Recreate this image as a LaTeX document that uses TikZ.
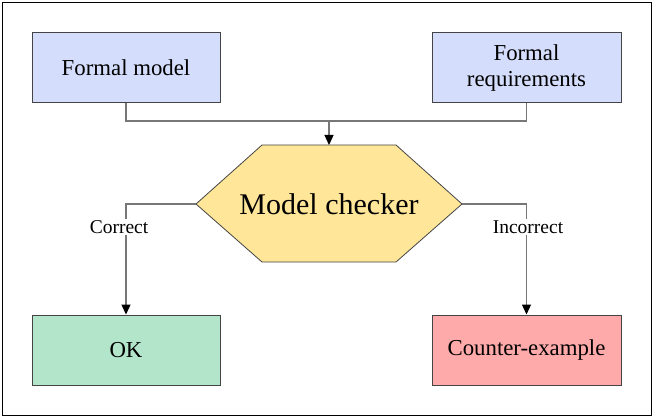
\documentclass[tikz,border=0pt]{standalone}
\usepackage{fontspec}
\setmainfont{Liberation Serif}
\usetikzlibrary{arrows.meta,shapes.geometric}
\definecolor{boxblue}{HTML}{D4DDFB}
\definecolor{boxgreen}{HTML}{B3E5CB}
\definecolor{boxred}{HTML}{FFAAAA}
\definecolor{hexyellow}{HTML}{FFE699}
\definecolor{edgegray}{HTML}{777777}
\definecolor{bordergray}{HTML}{444444}
\begin{document}
\begin{tikzpicture}[x=1pt,y=-1pt,
  box/.style={draw=bordergray,line width=1pt,minimum width=188pt,minimum height=70pt,
    inner sep=0pt,font=\fontsize{22.8}{26}\selectfont,align=center},
  conn/.style={draw=edgegray,line width=1.3pt},
  arr/.style={conn,-{Triangle[length=10pt,width=9pt,fill=black,color=black]}},
  lbl/.style={fill=white,inner sep=1.5pt,font=\fontsize{19.5}{22}\selectfont}]
\useasboundingbox (0,0) rectangle (653,417);
\draw[black,line width=1pt] (2.5,2.5) rectangle (651,415);
\node[box,fill=boxblue] (fm) at (126,68) {Formal model};
\node[box,fill=boxblue,minimum width=189pt] (fr) at (526.5,68) {Formal\\requirements};
\node[box,fill=boxgreen] (ok) at (126,350) {OK};
\node[box,fill=boxred,minimum width=189pt] (ce) at (526.5,350) {Counter-example};
\coordinate (h1) at (196,204);
\coordinate (h2) at (262,145);
\coordinate (h3) at (396,145);
\coordinate (h4) at (462,204);
\coordinate (h5) at (396,262);
\coordinate (h6) at (262,262);
\draw[fill=hexyellow,draw=bordergray,line width=0.8pt] (h1)--(h2)--(h3)--(h4)--(h5)--(h6)--cycle;
\node[font=\fontsize{30}{34}\selectfont] (mc) at (329,204) {Model checker};
\coordinate (join) at (329,121);
\coordinate (top) at (329,145);
\draw[conn] (fm.south) |- (join) -| (fr.south);
\draw[arr] (join) -- (top);
\draw[arr] (h1) -| (ok.north);
\draw[arr] (h4) -| (ce.north);
\node[lbl] (lc) at (119,227) {Correct};
\node[lbl] (li) at (528,227) {Incorrect};
\end{tikzpicture}
\end{document}
